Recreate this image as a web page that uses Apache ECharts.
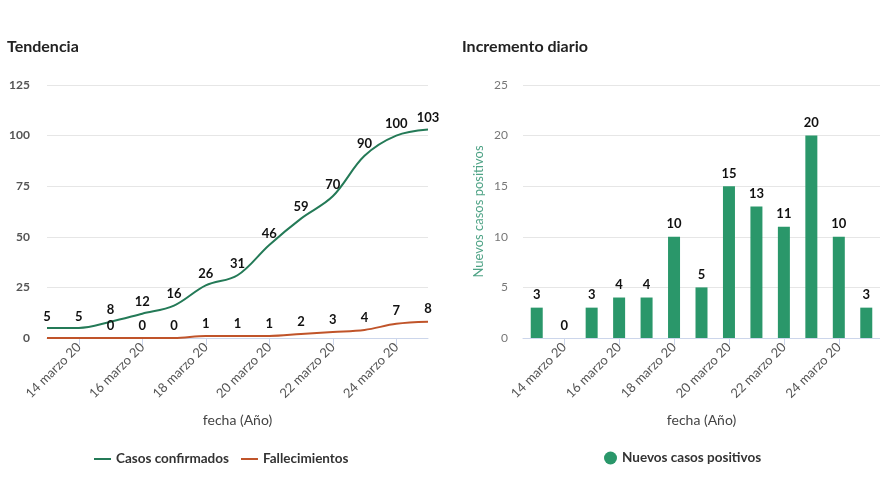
<!DOCTYPE html>
<html><head><meta charset="utf-8">
<script src="https://cdn.jsdelivr.net/npm/echarts@6/dist/echarts.min.js"></script>
<style>html,body{margin:0;padding:0;background:#fff}#c{width:880px;height:495px}</style>
</head><body><div id="c"></div>
<script>
const fechas = ["13 marzo 20","14 marzo 20","15 marzo 20","16 marzo 20","17 marzo 20","18 marzo 20","19 marzo 20","20 marzo 20","21 marzo 20","22 marzo 20","23 marzo 20","24 marzo 20","25 marzo 20"];
const casosConfirmados = [5,5,8,12,16,26,31,46,59,70,90,100,103];
const fallecimientos = [0,0,0,0,0,1,1,1,2,3,4,7,8];
const nuevosCasos = [3,0,3,4,4,10,5,15,13,11,20,10,3];
const ticksTendencia = [0,25,50,75,100,125];
const ticksDiario = [0,5,10,15,20,25];

const FONT = 'Lato, "Noto Sans", sans-serif';
const oddIdx = (i) => i % 2 === 1;
const xAxisCommon = {
  type: 'category', data: fechas,
  axisLine: {lineStyle: {color: '#ccd6eb'}},
  axisTick: {show: true, interval: oddIdx, length: 7, lineStyle: {color: '#ccd6eb'}},
  axisLabel: {interval: oddIdx, rotate: 45, color: '#555', fontSize: 13, fontFamily: FONT, margin: 7},
  name: 'fecha (Año)', nameLocation: 'middle', nameGap: 75,
  nameTextStyle: {color: '#444', fontSize: 14, fontFamily: FONT}
};
const yCommon = {
  type: 'value',
  splitLine: {lineStyle: {color: '#e6e6e6'}},
  axisLine: {show: false}, axisTick: {show: false}
};
const labelStyle = {color: '#111', fontWeight: 'bold', fontSize: 13, fontFamily: FONT};
const chart = echarts.init(document.getElementById('c'));
chart.setOption({
  animation: false,
  textStyle: {fontFamily: FONT},
  title: [
    {text: 'Tendencia', left: 2, top: 34, textStyle: {fontSize: 16, fontWeight: 'bold', color: '#222', fontFamily: FONT}},
    {text: 'Incremento diario', left: 457, top: 34, textStyle: {fontSize: 16, fontWeight: 'bold', color: '#222', fontFamily: FONT}}
  ],
  legend: [
    {data: ['Casos confirmados', 'Fallecimientos'], left: 89, top: 447, icon: 'rect', itemWidth: 17, itemHeight: 2, itemGap: 12,
     textStyle: {fontSize: 13.5, fontWeight: 'bold', color: '#333', fontFamily: FONT}},
    {data: ['Nuevos casos positivos'], left: 599, top: 446, icon: 'circle', itemWidth: 13, itemHeight: 13, itemGap: 6,
     textStyle: {fontSize: 13.5, fontWeight: 'bold', color: '#333', fontFamily: FONT}}
  ],
  grid: [
    {left: 47, top: 85, width: 381, height: 253},
    {left: 523, top: 85, width: 360, height: 253}
  ],
  xAxis: [
    Object.assign({}, xAxisCommon, {gridIndex: 0, boundaryGap: false}),
    Object.assign({}, xAxisCommon, {gridIndex: 1, boundaryGap: true,
      axisTick: {show: true, interval: oddIdx, alignWithLabel: true, length: 7, lineStyle: {color: '#ccd6eb'}}})
  ],
  yAxis: [
    Object.assign({}, yCommon, {gridIndex: 0, min: ticksTendencia[0], max: ticksTendencia[ticksTendencia.length-1], interval: 25,
      axisLabel: {color: '#555', fontSize: 12, fontWeight: 'bold', fontFamily: FONT, margin: 17}}),
    Object.assign({}, yCommon, {gridIndex: 1, min: ticksDiario[0], max: ticksDiario[ticksDiario.length-1], interval: 5,
      axisLabel: {color: '#777', fontSize: 12, fontFamily: FONT, margin: 15},
      name: 'Nuevos casos positivos', nameLocation: 'middle', nameGap: 38, nameRotate: 90,
      nameTextStyle: {color: '#4fa386', fontSize: 13, fontFamily: FONT}})
  ],
  series: [
    {name: 'Casos confirmados', type: 'line', xAxisIndex: 0, yAxisIndex: 0, data: casosConfirmados,
     smooth: 0.35, symbol: 'circle', symbolSize: 0.1, showSymbol: true, lineStyle: {color: '#247a57', width: 2}, itemStyle: {color: '#247a57'},
     label: Object.assign({show: true, position: 'top', distance: 5}, labelStyle)},
    {name: 'Fallecimientos', type: 'line', xAxisIndex: 0, yAxisIndex: 0, data: fallecimientos,
     smooth: 0.35, symbol: 'circle', symbolSize: 0.1, showSymbol: true, lineStyle: {color: '#c0542a', width: 2}, itemStyle: {color: '#c0542a'},
     label: Object.assign({show: true, position: 'top', distance: 6,
       formatter: (p) => p.dataIndex < 2 ? '' : String(p.value)}, labelStyle)},
    {name: 'Nuevos casos positivos', type: 'bar', xAxisIndex: 1, yAxisIndex: 1, data: nuevosCasos,
     barWidth: 12, itemStyle: {color: '#2a976a'},
     label: Object.assign({show: true, position: 'top', distance: 6}, labelStyle)}
  ]
});
</script></body></html>
